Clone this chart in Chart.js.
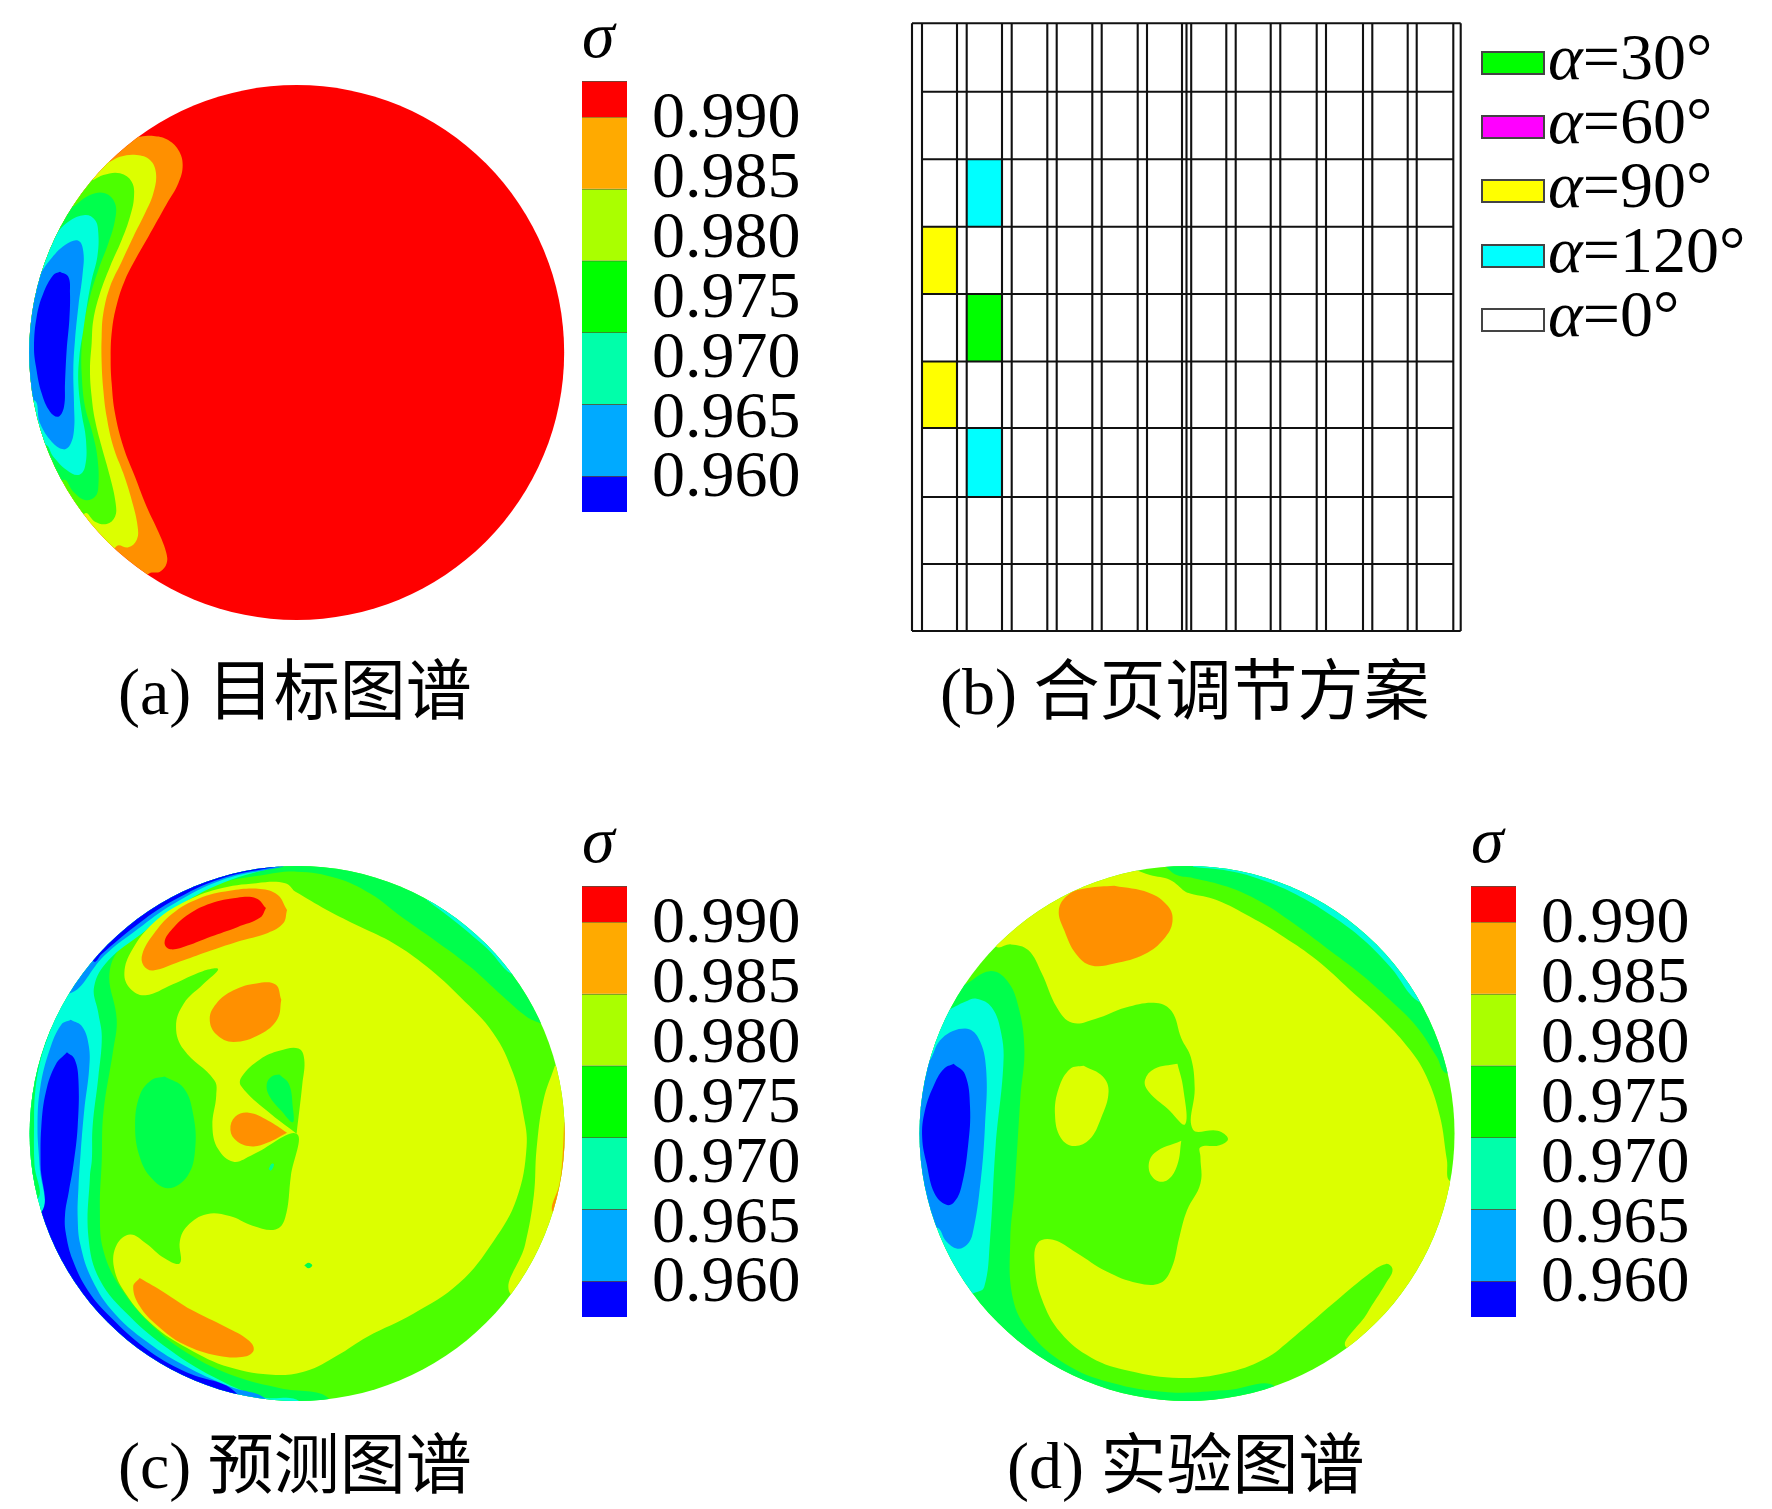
<!DOCTYPE html>
<html>
<head>
<meta charset="utf-8">
<title>σ</title>
<script src="https://cdn.jsdelivr.net/npm/chart.js@4/dist/chart.umd.min.js"></script>
<style>
    html, body { margin: 0; background: #fff; }
    body { position: relative; width: 1772px; height: 1509px; overflow: hidden; font-family: "Liberation Serif", "Noto Sans CJK SC", serif; color: #000; }
    canvas { position: absolute; }
    .texto { position: absolute; white-space: nowrap; }
    .pie { font-size: 66px; line-height: 80px; }
    .sigma { font-size: 66px; line-height: 60px; font-style: italic; }
    .leyenda { font-size: 66px; line-height: 64px; }
    .muestra { position: absolute; width: 60px; height: 20px; border: 2px solid #444; }
</style>
</head>
<body>
<script>
// contour level colours of the maps
const RED = '#ff0000', ORANGE = '#ff9000', YELLOW = '#dcff00', GREEN = '#4cff00';
const SPRING = '#00ff4c', CYAN = '#00ffdc', BLUE = '#0090ff', NAVY = '#0000ff';

// colour bar: sigma ranges and tick labels
const sigma_ticks = [0.990, 0.985, 0.980, 0.975, 0.970, 0.965, 0.960];
const sigma_low = [0.990, 0.984, 0.978, 0.972, 0.966, 0.960, 0.957];
const sigma_high = [0.993, 0.990, 0.984, 0.978, 0.972, 0.966, 0.960];
const bar_colors = ['#ff0000', '#ffaa00', '#aaff00', '#00ff00', '#00ffaa', '#00aaff', '#0000ff'];

// (a) target map, contour outlines
const a_orange = [[390,20],[430,18],[470,28],[505,60],[518,105],[505,160],[470,222],[415,320],[378,385],[345,450],[320,525],[306,600],[302,680],[305,760],[315,850],[340,950],[375,1040],[410,1130],[445,1205],[468,1265],[470,1300],[450,1325],[415,1332],[300,1450],[-100,1500],[-100,-100]];
const a_yellow = [[300,95],[330,80],[380,75],[420,90],[438,130],[430,190],[405,250],[370,320],[335,395],[300,470],[280,550],[275,620],[275,700],[280,780],[290,860],[310,950],[340,1030],[365,1110],[383,1190],[380,1230],[355,1252],[320,1248],[250,1350],[-100,1500],[-100,-100]];
const a_green = [[250,150],[280,135],[330,130],[365,155],[372,200],[360,260],[335,330],[300,410],[270,490],[250,570],[245,640],[240,720],[245,800],[255,870],[275,950],[300,1040],[317,1120],[315,1160],[290,1182],[255,1175],[225,1150],[150,1250],[-100,1500],[-100,-100]];
const a_spring = [[190,230],[240,195],[285,190],[315,220],[315,270],[295,340],[265,420],[240,500],[222,580],[215,650],[215,730],[225,830],[245,900],[262,980],[265,1070],[255,1100],[225,1110],[190,1085],[160,1050],[50,1150],[-100,1500],[-100,-100]];
const a_cyan = [[130,320],[175,275],[225,255],[255,270],[265,310],[262,380],[245,450],[232,520],[220,600],[208,680],[205,760],[215,850],[228,930],[225,1010],[205,1035],[170,1020],[130,980],[105,945],[0,1000],[-100,1500],[-100,-100]];
const a_blue = [[85,440],[120,390],[165,345],[205,332],[220,365],[218,430],[205,530],[195,630],[190,720],[192,820],[192,900],[180,945],[160,958],[125,935],[90,880],[70,810],[-50,850],[-100,-100]];
const a_navy = [[150,425],[175,440],[180,490],[178,570],[170,660],[165,760],[162,830],[145,860],[120,845],[95,790],[78,710],[72,650],[80,560],[100,490],[130,435]];

// (c) predicted map, contour outlines
const c_spring = [[1411,531],[1376,514],[1315,462],[1228,383],[1141,318],[1054,257],[967,192],[880,152],[775,135],[680,145],[575,165],[444,218],[340,305],[287,392],[305,522],[296,600],[270,766],[266,888],[261,1019],[270,1124],[314,1220],[401,1324],[505,1402],[618,1455],[732,1485],[860,1512],[860,1600],[0,1600],[0,60],[1440,60],[1440,531]];
const c_cyan = [[740,118],[585,163],[458,230],[370,297],[284,366],[246,435],[257,505],[266,566],[257,671],[242,801],[240,888],[235,932],[231,1089],[261,1202],[340,1298],[444,1385],[557,1455],[680,1507],[784,1520],[784,1600],[0,1600],[0,60],[740,60]];
const c_cyan_right = [[1115,209],[1185,262],[1272,335],[1350,409],[1450,400],[1300,150]];
const c_rim_left = [[137,535],[108,620],[92,710],[89,800],[90,900],[98,990],[0,1000],[0,535]];
const c_blue = [[185,522],[215,540],[232,590],[233,650],[220,760],[210,880],[205,960],[203,1040],[210,1110],[240,1200],[300,1290],[400,1375],[500,1435],[600,1480],[700,1518],[700,1600],[0,1600],[0,1040],[108,1030],[103,900],[98,800],[105,700],[130,600],[160,535]];
const c_blue_top = [[740,122],[582,156],[452,220],[360,285],[272,355],[183,453],[120,400],[400,100],[740,100]];
const c_navy = [[175,607],[195,625],[205,680],[203,800],[192,900],[180,970],[170,1030],[172,1080],[190,1150],[230,1230],[290,1300],[380,1380],[480,1440],[620,1500],[620,1600],[0,1600],[0,1040],[108,1025],[106,900],[108,800],[120,710],[145,640]];
const c_navy_top = [[730,121],[581,152],[448,213],[354,277],[266,350],[245,370],[200,300],[500,80],[730,90]];
const c_orange_rim = [[1474,790],[1470,880],[1462,950],[1445,1025],[1520,1025],[1520,790]];
const c_yellow_rim = [[1450,642],[1420,732],[1402,860],[1395,980],[1372,1110],[1335,1240],[1520,1300],[1520,642]];
const c_yellow = [[771,187],[854,235],[941,279],[1028,322],[1115,383],[1202,462],[1289,557],[1341,662],[1367,766],[1376,854],[1350,990],[1290,1100],[1200,1210],[1080,1290],[960,1350],[880,1400],[800,1440],[720,1450],[600,1430],[490,1380],[400,1320],[330,1240],[298,1170],[305,1110],[340,1083],[380,1105],[430,1145],[470,1158],[470,1100],[490,1060],[540,1030],[600,1035],[660,1060],[720,1070],[745,1040],[760,930],[775,820],[660,875],[610,893],[570,860],[555,800],[565,720],[560,680],[480,600],[460,540],[480,480],[530,430],[570,390],[530,395],[450,430],[380,458],[340,440],[325,400],[345,340],[400,270],[480,215],[570,180],[670,165],[745,165]];
const c_green_wedge = [[775,820],[700,762],[630,695],[632,670],[680,625],[730,603],[780,597],[795,625],[790,690]];
const c_spring_wedge = [[730,665],[755,690],[765,750],[765,790],[735,760],[703,720],[697,690],[710,670]];
const c_spring_oval = [[430,670],[480,700],[505,770],[510,860],[490,930],[440,962],[395,935],[365,880],[353,800],[365,720],[395,680]];
const c_orange_drop = [[750,817],[700,785],[650,765],[615,775],[602,810],[620,840],[660,853],[700,843]];
const c_orange_top = [[750,235],[740,270],[700,295],[620,318],[540,345],[470,370],[400,393],[375,380],[372,350],[400,300],[450,245],[520,205],[600,185],[680,180],[725,195]];
const c_red_top = [[695,230],[680,255],[620,280],[550,305],[490,328],[445,338],[430,320],[450,285],[495,245],[550,218],[620,203],[670,205]];
const c_orange_mid = [[735,470],[725,520],[680,560],[610,580],[565,560],[548,520],[565,480],[610,445],[670,427],[720,430]];
const c_orange_low = [[365,1197],[430,1235],[500,1280],[590,1325],[650,1360],[663,1385],[640,1402],[570,1400],[480,1370],[410,1320],[365,1270],[348,1220]];
const c_speck_a = [[795,1164],[806,1157],[816,1164],[806,1171]];
const c_speck_b = [[702,912],[710,898],[716,900],[708,916]];

// (d) measured map, contour outlines
const d_spring = [[170,430],[235,395],[280,420],[310,490],[325,600],[315,720],[300,960],[288,1100],[295,1250],[340,1340],[430,1420],[550,1470],[700,1495],[850,1490],[980,1480],[980,1600],[0,1600],[0,430]];
const d_cyan = [[130,495],[170,475],[200,467],[240,490],[265,560],[270,640],[250,850],[235,1100],[220,1220],[195,1235],[0,1300],[0,495]];
const d_blue = [[80,625],[110,570],[170,545],[205,570],[225,650],[222,800],[210,950],[190,1080],[175,1110],[150,1120],[120,1100],[96,1065],[0,1065],[0,625]];
const d_navy = [[140,637],[170,665],[183,750],[178,850],[160,960],[140,1000],[120,1005],[90,975],[70,900],[58,830],[65,760],[90,690],[115,650]];
const d_spring_top = [[692,120],[723,144],[767,152],[854,174],[941,213],[1028,270],[1115,335],[1202,401],[1280,470],[1350,540],[1402,618],[1428,662],[1520,662],[1520,60],[692,60]];
const d_cyan_top = [[766,122],[871,135],[958,161],[1045,200],[1132,253],[1211,313],[1280,383],[1363,479],[1450,470],[1450,60],[766,60]];
const d_yellow = [[615,130],[653,144],[706,157],[745,187],[758,192],[827,209],[915,253],[1002,305],[1089,366],[1176,444],[1263,523],[1333,601],[1376,671],[1411,775],[1429,888],[1440,945],[1560,945],[1560,1450],[1170,1380],[1220,1290],[1270,1210],[1287,1175],[1270,1160],[1220,1190],[1130,1265],[1030,1350],[950,1410],[850,1445],[730,1458],[600,1440],[500,1405],[420,1340],[370,1250],[352,1160],[360,1105],[400,1097],[460,1130],[540,1180],[620,1210],[680,1210],[710,1170],[730,1090],[750,1020],[785,950],[785,880],[785,855],[835,850],[857,833],[830,812],[765,808],[770,700],[760,620],[735,570],[710,500],[670,478],[590,490],[510,520],[450,530],[410,490],[370,400],[335,340],[290,325],[250,330],[150,200],[615,60]];
const d_lobe_left = [[480,642],[530,670],[545,710],[525,780],[495,835],[455,852],[420,830],[405,770],[415,700],[445,650]];
const d_lobe_up = [[725,637],[740,700],[745,795],[700,755],[650,710],[640,680],[665,650]];
const d_lobe_down = [[735,838],[725,900],[700,940],[670,942],[650,910],[665,870]];
const d_orange = [[560,172],[650,190],[700,225],[712,265],[690,310],[640,350],[560,375],[500,380],[460,350],[430,290],[415,235],[440,195],[490,178]];

// (b) hinge layout
const hinge_edges = [912, 922, 957, 966.7, 1002, 1011.7, 1047.3, 1056.7, 1092.3, 1101.7, 1137.7, 1147, 1182, 1186.5, 1191.2, 1226.3, 1235.7, 1270.7, 1280.3, 1316.7, 1326, 1363, 1372.3, 1407.7, 1416.7, 1453.3, 1460.7];
const hinge_rows = [23.3, 91.7, 159.3, 226.7, 294, 361.5, 428, 497, 564, 631];
const cell_left = [966.7, 922, 966.7, 922, 966.7];
const cell_right = [1002, 957, 1002, 957, 1002];
const cell_row = [2, 3, 4, 5, 6];
const cell_angle = [120, 90, 30, 90, 120];
const legend_angles = [30, 60, 90, 120, 0];
const legend_colors = ['#00ff00', '#ff00ff', '#ffff00', '#00ffff', '#ffffff'];

const captions = [
    ['(a) 目标图谱', 118, 652],
    ['(b) 合页调节方案', 940, 652],
    ['(c) 预测图谱', 118, 1426],
    ['(d) 实验图谱', 1007, 1426]
];

function agregar_canvas(left, top, width, height) {
    const canvas = document.createElement('canvas');
    canvas.width = width;
    canvas.height = height;
    canvas.style.left = left + 'px';
    canvas.style.top = top + 'px';
    canvas.style.width = width + 'px';
    canvas.style.height = height + 'px';
    document.body.appendChild(canvas);
    return canvas;
}

function agregar_texto(clase, html, left, top) {
    const div = document.createElement('div');
    div.className = 'texto ' + clase;
    div.innerHTML = html;
    div.style.left = left + 'px';
    div.style.top = top + 'px';
    document.body.appendChild(div);
}

function a_puntos(pares) {
    return pares.map(p => ({ x: p[0], y: p[1] }));
}

function region(pares, color, tension) {
    return {
        data: a_puntos(pares.concat([pares[0]])),
        showLine: true,
        fill: 'shape',
        backgroundColor: color,
        borderWidth: 0,
        pointRadius: 0,
        tension: tension === undefined ? 0.4 : tension
    };
}

// every contour map: disc clipped through its own scales
function dibujar_mapa(box, map, base_color, regiones) {
    const canvas = agregar_canvas(box.left, box.top, box.size, box.size);
    const span = box.size * map.k;
    const x_min = (box.left - map.ox) * map.k;
    const y_min = (box.top - map.oy) * map.k;
    const fondo = [[x_min, y_min], [x_min + span, y_min], [x_min + span, y_min + span], [x_min, y_min + span]];
    const datasets = [region(fondo, base_color, 0)].concat(regiones.map(r => region(r[0], r[1])));
    datasets.forEach((d, i) => { d.order = datasets.length - i; });

    const recorte_disco = {
        id: 'recorte_disco',
        beforeDatasetsDraw(chart) {
            const cx = chart.scales.x.getPixelForValue(map.cx);
            const cy = chart.scales.y.getPixelForValue(map.cy);
            const r = chart.scales.x.getPixelForValue(map.cx + map.r) - cx;
            chart.ctx.save();
            chart.ctx.beginPath();
            chart.ctx.arc(cx, cy, r, 0, Math.PI * 2);
            chart.ctx.clip();
        },
        afterDatasetsDraw(chart) {
            chart.ctx.restore();
        }
    };

    new Chart(canvas, {
        type: 'scatter',
        data: { datasets: datasets },
        options: {
            responsive: false,
            animation: false,
            devicePixelRatio: 1,
            elements: { line: { capBezierPoints: false } },
            plugins: { legend: { display: false }, tooltip: { enabled: false } },
            scales: {
                x: { display: false, min: x_min, max: x_min + span },
                y: { display: false, reverse: true, min: y_min, max: y_min + span }
            }
        },
        plugins: [recorte_disco]
    });
}

function dibujar_barra(left, top) {
    const height = 431;
    const canvas = agregar_canvas(left, top, 240, height);
    new Chart(canvas, {
        type: 'bar',
        data: {
            labels: ['σ'],
            datasets: sigma_low.map((low, i) => ({
                data: [[low, sigma_high[i]]],
                backgroundColor: bar_colors[i],
                borderColor: 'rgba(50,50,30,0.85)',
                borderWidth: { top: 1, right: 0, bottom: 0, left: 0 },
                borderSkipped: false,
                grouped: false,
                barPercentage: 1,
                categoryPercentage: 1
            }))
        },
        options: {
            responsive: false,
            animation: false,
            devicePixelRatio: 1,
            plugins: { legend: { display: false }, tooltip: { enabled: false } },
            scales: {
                x: { display: false },
                y: {
                    position: 'right',
                    min: 0.957,
                    max: 0.993,
                    border: { display: false },
                    grid: { display: false },
                    ticks: {
                        autoSkip: false,
                        padding: 17,
                        labelOffset: 3,
                        color: '#000',
                        font: { family: '"Liberation Serif"', size: 66 },
                        callback: v => v.toFixed(3)
                    },
                    afterBuildTicks: scale => { scale.ticks = sigma_ticks.map(v => ({ value: v })); },
                    afterFit: scale => { scale.paddingTop = 0; scale.paddingBottom = 0; scale.width = 195; }
                }
            }
        }
    });
    agregar_texto('sigma', 'σ', left, top - 76);
}

function dibujar_bisagras() {
    const left = 905, top = 15, width = 565, height = 625;
    const canvas = agregar_canvas(left, top, width, height);
    const datasets = [];
    const y_top = hinge_rows[0];
    const y_bottom = hinge_rows[hinge_rows.length - 1];

    hinge_edges.forEach(x => {
        datasets.push({ data: [{ x: x, y: y_top }, { x: x, y: y_bottom }] });
    });
    hinge_rows.forEach((y, i) => {
        const outer = i === 0 || i === hinge_rows.length - 1;
        const x0 = outer ? hinge_edges[0] : hinge_edges[1];
        const x1 = outer ? hinge_edges[hinge_edges.length - 1] : hinge_edges[hinge_edges.length - 2];
        datasets.push({ data: [{ x: x0, y: y }, { x: x1, y: y }] });
    });
    datasets.forEach(d => {
        d.showLine = true;
        d.borderColor = '#111';
        d.borderWidth = 2.1;
        d.pointRadius = 0;
    });
    cell_left.forEach((x0, i) => {
        const y0 = hinge_rows[cell_row[i]];
        const y1 = hinge_rows[cell_row[i] + 1];
        const color = legend_colors[legend_angles.indexOf(cell_angle[i])];
        datasets.push(region([[x0, y0], [cell_right[i], y0], [cell_right[i], y1], [x0, y1]], color, 0));
    });

    new Chart(canvas, {
        type: 'scatter',
        data: { datasets: datasets },
        options: {
            responsive: false,
            animation: false,
            devicePixelRatio: 1,
            plugins: { legend: { display: false }, tooltip: { enabled: false } },
            scales: {
                x: { display: false, min: left, max: left + width },
                y: { display: false, reverse: true, min: top, max: top + height }
            }
        }
    });

    legend_angles.forEach((angle, i) => {
        const y = 51 + i * 64.2;
        const sw = document.createElement('div');
        sw.className = 'muestra';
        sw.style.left = '1481px';
        sw.style.top = y + 'px';
        sw.style.background = legend_colors[i];
        document.body.appendChild(sw);
        agregar_texto('leyenda', '<i>α</i>=' + angle + '°', 1548, y - 26);
    });
}

document.addEventListener('DOMContentLoaded', function () {
    dibujar_mapa({ left: 20, top: 75, size: 560 }, { ox: 10, oy: 130, k: 3, cx: 860, cy: 667.5, r: 802.5 }, RED, [
        [a_orange, ORANGE], [a_yellow, YELLOW], [a_green, GREEN], [a_spring, SPRING],
        [a_cyan, CYAN], [a_blue, BLUE], [a_navy, NAVY]
    ]);
    dibujar_mapa({ left: 20, top: 856, size: 560 }, { ox: 0, oy: 820, k: 2.613, cx: 776.5, cy: 819, r: 699 }, GREEN, [
        [c_spring, SPRING], [c_cyan, CYAN], [c_cyan_right, CYAN], [c_rim_left, SPRING], [c_blue, BLUE], [c_blue_top, BLUE],
        [c_navy, NAVY], [c_navy_top, NAVY], [c_yellow_rim, YELLOW], [c_orange_rim, ORANGE], [c_yellow, YELLOW],
        [c_green_wedge, GREEN], [c_spring_wedge, SPRING], [c_spring_oval, SPRING], [c_orange_drop, ORANGE],
        [c_orange_top, ORANGE], [c_red_top, RED], [c_orange_mid, ORANGE], [c_orange_low, ORANGE],
        [c_speck_a, SPRING], [c_speck_b, '#00ff90']
    ]);
    dibujar_mapa({ left: 910, top: 856, size: 560 }, { ox: 900, oy: 820, k: 2.613, cx: 750, cy: 819, r: 699 }, GREEN, [
        [d_spring, SPRING], [d_cyan, CYAN], [d_blue, BLUE], [d_navy, NAVY], [d_spring_top, SPRING], [d_cyan_top, CYAN],
        [d_yellow, YELLOW], [d_lobe_left, YELLOW], [d_lobe_up, YELLOW], [d_lobe_down, YELLOW], [d_orange, ORANGE]
    ]);

    dibujar_barra(582, 81);
    dibujar_barra(582, 886);
    dibujar_barra(1471, 886);
    dibujar_bisagras();

    captions.forEach(c => agregar_texto('pie', c[0], c[1], c[2]));
});
</script>
</body>
</html>
